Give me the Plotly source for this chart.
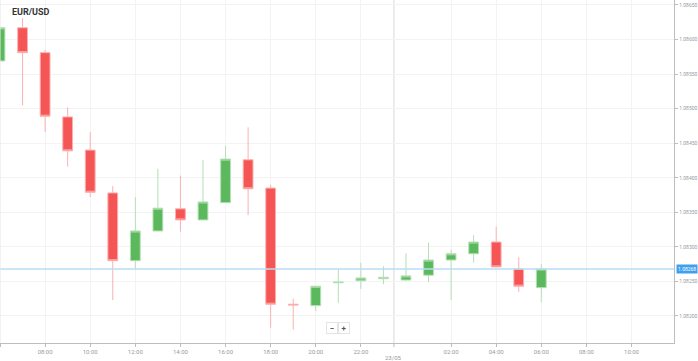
import plotly.graph_objects as go

times = ["2023-05-22 06:00", "2023-05-22 07:00", "2023-05-22 08:00", "2023-05-22 09:00",
         "2023-05-22 10:00", "2023-05-22 11:00", "2023-05-22 12:00", "2023-05-22 13:00",
         "2023-05-22 14:00", "2023-05-22 15:00", "2023-05-22 16:00", "2023-05-22 17:00",
         "2023-05-22 18:00", "2023-05-22 19:00", "2023-05-22 20:00", "2023-05-22 21:00",
         "2023-05-22 22:00", "2023-05-22 23:00", "2023-05-23 00:00", "2023-05-23 01:00",
         "2023-05-23 02:00", "2023-05-23 03:00", "2023-05-23 04:00", "2023-05-23 05:00",
         "2023-05-23 06:00"]
opens  = [1.08569, 1.08617, 1.08581, 1.08488, 1.08440, 1.08378, 1.08280, 1.08323,
          1.08355, 1.08339, 1.08364, 1.08426, 1.08385, 1.08217, 1.08215, 1.08248,
          1.08251, 1.08254, 1.08252, 1.08259, 1.08281, 1.08290, 1.08307, 1.08268,
          1.08241]
highs  = [1.08617, 1.08631, 1.08585, 1.08502, 1.08466, 1.08388, 1.08372, 1.08413,
          1.08403, 1.08426, 1.08446, 1.08473, 1.08390, 1.08225, 1.08243, 1.08268,
          1.08277, 1.08272, 1.08291, 1.08306, 1.08296, 1.08317, 1.08329, 1.08285,
          1.08275]
lows   = [1.08569, 1.08505, 1.08466, 1.08416, 1.08372, 1.08223, 1.08269, 1.08323,
          1.08322, 1.08339, 1.08364, 1.08346, 1.08183, 1.08180, 1.08207, 1.08219,
          1.08239, 1.08246, 1.08251, 1.08249, 1.08223, 1.08277, 1.08271, 1.08235,
          1.08220]
closes = [1.08617, 1.08581, 1.08489, 1.08439, 1.08379, 1.08280, 1.08323, 1.08356,
          1.08339, 1.08365, 1.08427, 1.08384, 1.08217, 1.08216, 1.08243, 1.08249,
          1.08255, 1.08256, 1.08258, 1.08281, 1.08290, 1.08307, 1.08271, 1.08243,
          1.08268]

current_price = 1.08268
symbol = "EUR/USD"

x_tickvals = ["2023-05-22 06:00", "2023-05-22 08:00", "2023-05-22 10:00", "2023-05-22 12:00",
              "2023-05-22 14:00", "2023-05-22 16:00", "2023-05-22 18:00", "2023-05-22 20:00",
              "2023-05-22 22:00", "2023-05-23 02:00", "2023-05-23 04:00", "2023-05-23 06:00",
              "2023-05-23 08:00", "2023-05-23 10:00"]
x_ticktext = ["06:00", "08:00", "10:00", "12:00", "14:00", "16:00", "18:00", "20:00",
              "22:00", "02:00", "04:00", "06:00", "08:00", "10:00"]
day_sep = "2023-05-22 23:28"
day_label = "23/05"

y_tickvals = [1.08200, 1.08250, 1.08300, 1.08350, 1.08400, 1.08450, 1.08500,
              1.08550, 1.08600, 1.08650]
y_ticktext = ["%.5f" % v for v in y_tickvals]

FONT = "Roboto, Arial, sans-serif"

fig = go.Figure()
fig.add_trace(go.Candlestick(
    x=times, open=opens, high=highs, low=lows, close=closes,
    increasing=dict(line=dict(color="#b5dfb5", width=1), fillcolor="#5cb85c"),
    decreasing=dict(line=dict(color="#fbb0b0", width=1), fillcolor="#f65555"),
    whiskerwidth=0, hoverinfo="skip", showlegend=False,
))

fig.add_hline(y=current_price, line=dict(color="#b9dcf3", width=1.3))
fig.add_shape(type="line", xref="x", yref="paper", x0=day_sep, x1=day_sep, y0=0, y1=1,
              line=dict(color="#e2e2e2", width=1.3), layer="below")
fig.add_shape(type="line", xref="x", yref="paper", x0=day_sep, x1=day_sep, y0=0, y1=-0.012,
              line=dict(color="#bbbbbb", width=1))
fig.add_shape(type="line", xref="paper", yref="paper", x0=0, x1=0, y0=0, y1=1,
              line=dict(color="#e6e6e6", width=1))

fig.add_annotation(x=day_sep, xref="x", y=0, yref="paper", yanchor="top", yshift=-9,
                   text=day_label, showarrow=False,
                   font=dict(family=FONT, size=6, color="#9a9a9a"))
fig.add_annotation(x=10 / 674, xref="paper", y=1, yref="paper", xanchor="left", yanchor="top",
                   yshift=-5, text="<b>" + symbol + "</b>", showarrow=False,
                   font=dict(family=FONT, size=9, color="#333333"))
fig.add_annotation(x=1, xref="paper", y=current_price, yref="y", xanchor="left", xshift=2,
                   text="%.5f" % current_price, showarrow=False, bgcolor="#3fa0ee",
                   borderpad=1, font=dict(family=FONT, size=5, color="white"))
for xp, t in [(332, "−"), (344, "+")]:
    fig.add_annotation(x=xp / 674, xref="paper", y=(343 - 334) / 343, yref="paper",
                       text="<b>" + t + "</b>", showarrow=False, bgcolor="white",
                       bordercolor="#e4e4e4", borderwidth=1, borderpad=1, width=8, height=8,
                       font=dict(family=FONT, size=8, color="#555555"))

fig.update_layout(
    width=698, height=361,
    margin=dict(l=0, r=24, t=0, b=18),
    paper_bgcolor="white", plot_bgcolor="white",
    font=dict(family=FONT, size=6, color="#9a9a9a"),
    boxgap=0.38,
    xaxis=dict(
        type="date", range=["2023-05-22 06:00", "2023-05-23 11:53"],
        rangeslider=dict(visible=False),
        tickvals=x_tickvals, ticktext=x_ticktext,
        showgrid=True, gridcolor="#f3f3f3", gridwidth=1,
        showline=True, linecolor="#bdbdbd", linewidth=1.3,
        ticks="outside", ticklen=3, tickcolor="#bdbdbd",
        tickfont=dict(family=FONT, size=6, color="#9a9a9a"),
        zeroline=False, fixedrange=True,
    ),
    yaxis=dict(
        side="right", range=[1.081609, 1.086572],
        tickvals=y_tickvals, ticktext=y_ticktext,
        showgrid=True, gridcolor="#f3f3f3", gridwidth=1,
        showline=True, linecolor="#bdbdbd", linewidth=1.3,
        ticks="outside", ticklen=3, tickcolor="#bdbdbd",
        tickfont=dict(family=FONT, size=5, color="#9a9a9a"),
        zeroline=False, fixedrange=True,
    ),
)

fig.write_html("out.html", config={"displayModeBar": False},
               post_script="document.body.style.margin='0';document.body.style.overflow='hidden';")
